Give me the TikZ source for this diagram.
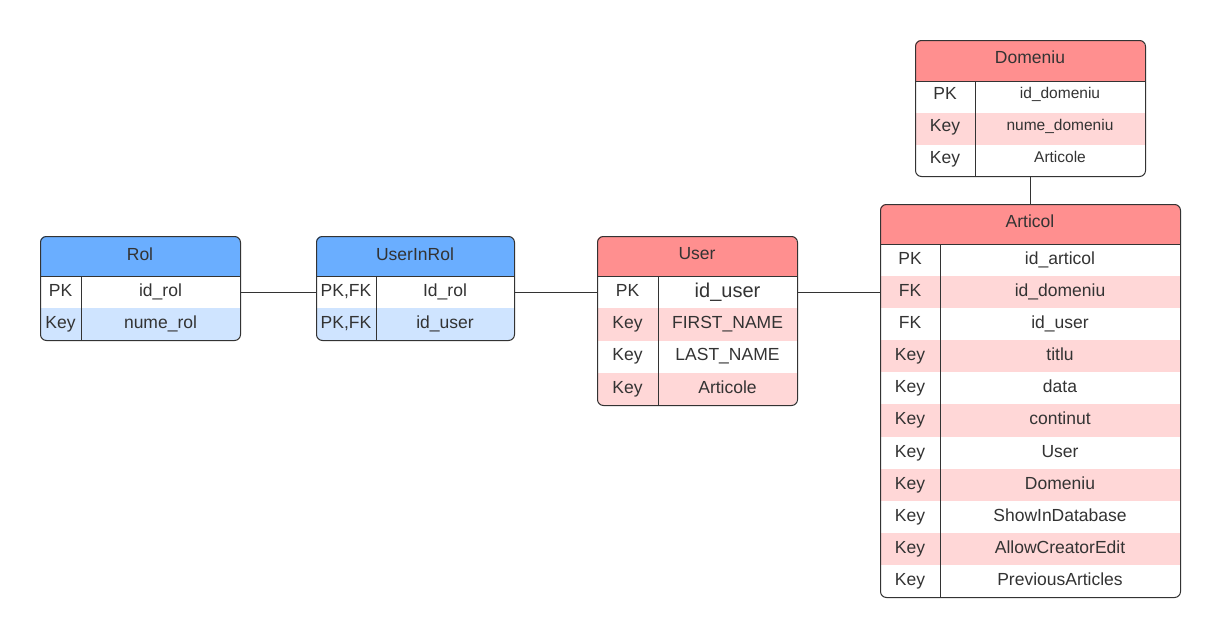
\documentclass[tikz,border=0pt]{standalone}
\usepackage{fontspec}
\setmainfont{Liberation Sans}
\definecolor{ink}{HTML}{333333}
\definecolor{bluehdr}{HTML}{6AAEFF}
\definecolor{bluerow}{HTML}{CFE4FF}
\definecolor{redhdr}{HTML}{FF8F8F}
\definecolor{redrow}{HTML}{FFD7D7}
\tikzset{
  frame/.style={draw=ink, line width=1pt, rounded corners=6pt, inner sep=0pt, anchor=north west},
  rule/.style={draw=ink, line width=1pt},
  link/.style={draw=ink, line width=0.8pt},
  txt/.style={text=ink, inner sep=0pt, text height=12.6pt, text depth=3.7pt, font=\fontsize{17.5}{20}\selectfont},
  big/.style={txt, text height=14.4pt, text depth=4.2pt, font=\fontsize{20}{23}\selectfont},
  small/.style={txt, text height=11.2pt, text depth=3.3pt, font=\fontsize{15.5}{18}\selectfont},
}
% #1 x1, #2 y1, #3 x2, #4 y2, #5 header bottom, #6 divider x, #7 header colour, #8 stripes
\newcommand\ertable[8]{%
  \begin{scope}
    \clip[rounded corners=6pt] (#1,#2) rectangle (#3,#4);
    \fill[white] (#1,#2) rectangle (#3,#4);
    \fill[#7] (#1,#2) rectangle (#3,#5);
    #8
  \end{scope}
  \draw[rule] (#1,#5) -- (#3,#5);
  \draw[rule] (#6,#5) -- (#6,#4);
}
\begin{document}
\begin{tikzpicture}[x=1pt,y=-1pt]
\useasboundingbox (0,0) rectangle (1220,637);

% ---------- Rol ----------
\ertable{40}{236}{240}{340}{276}{81}{bluehdr}{\fill[bluerow] (40,308) rectangle (240,340);}
\node[frame, minimum width=200pt, minimum height=104pt] (rol) at (40,236) {};
\node[txt] (rolt) at (140,256) {Rol};
\node[txt] (rolk1) at (60.5,292) {PK};
\node[txt] (rolv1) at (160.5,292) {id\_rol};
\node[txt] (rolk2) at (60.5,324) {Key};
\node[txt] (rolv2) at (160.5,324) {nume\_rol};

% ---------- UserInRol ----------
\ertable{316}{236}{514}{340}{276}{376}{bluehdr}{\fill[bluerow] (316,308) rectangle (514,340);}
\node[frame, minimum width=198pt, minimum height=104pt] (uir) at (316,236) {};
\node[txt] (uirt) at (415,256) {UserInRol};
\node[txt] (uirk1) at (346,292) {PK,FK};
\node[txt] (uirv1) at (445,292) {Id\_rol};
\node[txt] (uirk2) at (346,324) {PK,FK};
\node[txt] (uirv2) at (445,324) {id\_user};

% ---------- User ----------
\ertable{597}{236}{797}{405}{276}{658}{redhdr}{%
  \fill[redrow] (597,308.25) rectangle (797,340.5);
  \fill[redrow] (597,372.75) rectangle (797,405);}
\node[frame, minimum width=200pt, minimum height=169pt] (usr) at (597,236) {};
\node[txt] (usrt) at (697,255) {User};
\node[txt] (usrk1) at (627.5,292) {PK};
\node[big] (usrv1) at (727.5,292) {id\_user};
\node[txt] (usrk2) at (627.5,324.5) {Key};
\node[txt] (usrv2) at (727.5,324.5) {FIRST\_NAME};
\node[txt] (usrk3) at (627.5,356.5) {Key};
\node[txt] (usrv3) at (727.5,356.5) {LAST\_NAME};
\node[txt] (usrk4) at (627.5,389) {Key};
\node[txt] (usrv4) at (727.5,389) {Articole};

% ---------- Domeniu ----------
\ertable{915}{40}{1145}{176}{81}{975}{redhdr}{\fill[redrow] (915,112.5) rectangle (1145,145);}
\node[frame, minimum width=230pt, minimum height=136pt] (dom) at (915,40) {};
\node[txt] (domt) at (1030,59) {Domeniu};
\node[txt] (domk1) at (945,95) {PK};
\node[small] (domv1) at (1060,95) {id\_domeniu};
\node[txt] (domk2) at (945,127) {Key};
\node[small] (domv2) at (1060,127) {nume\_domeniu};
\node[txt] (domk3) at (945,159) {Key};
\node[small] (domv3) at (1060,159) {Articole};

% ---------- Articol ----------
\ertable{880}{204}{1180}{597}{244}{940}{redhdr}{%
  \foreach \r in {1,3,5,7,9} {\fill[redrow] (880,{244+\r*32.09}) rectangle (1180,{244+(\r+1)*32.09});}}
\node[frame, minimum width=300pt, minimum height=393pt] (art) at (880,204) {};
\node[txt] (artt) at (1030,223) {Articol};
\foreach \k/\v [count=\i from 0] in {PK/id\_articol, FK/id\_domeniu, FK/id\_user, Key/titlu, Key/data, Key/continut, Key/User, Key/Domeniu, Key/ShowInDatabase, Key/AllowCreatorEdit, Key/PreviousArticles} {
  \node[txt] (artk\i) at (910,{244+(\i+0.5)*32.09}) {\k};
  \node[txt] (artv\i) at (1060,{244+(\i+0.5)*32.09}) {\v};
}

% ---------- connectors ----------
\draw[link] (rol.east |- rolk1) -- (uir.west |- uirk1);
\draw[link] (uir.east |- uirk1) -- (usr.west |- usrk1);
\draw[link] (usr.east |- usrk1) -- (art.west |- usrk1);
\draw[link] (dom.south) -- (art.north);
\end{tikzpicture}
\end{document}
